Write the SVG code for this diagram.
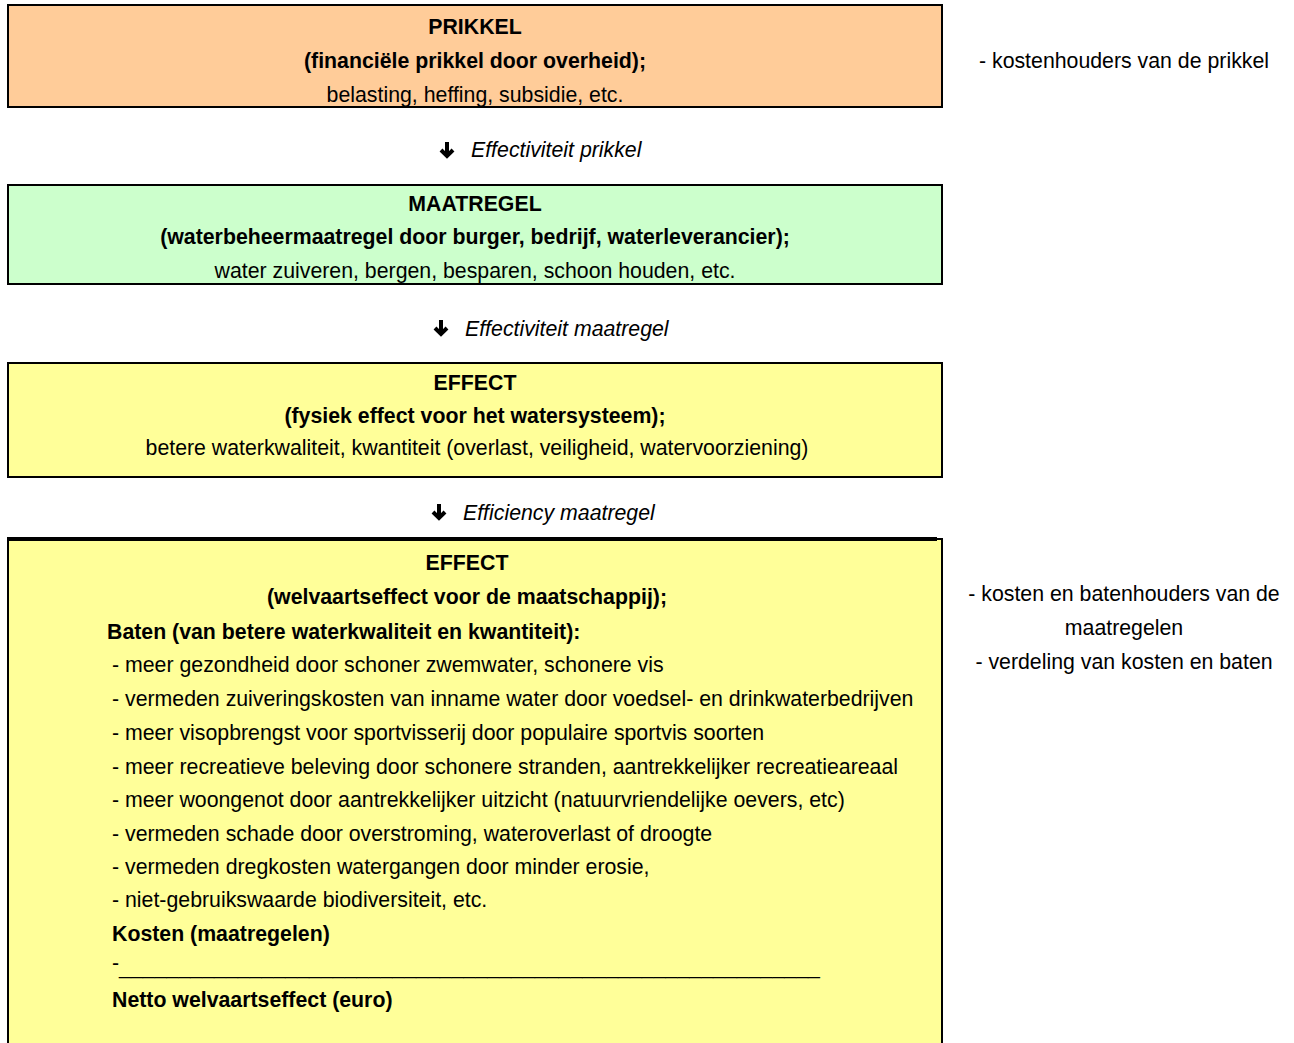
<svg xmlns="http://www.w3.org/2000/svg" width="1294" height="1043" viewBox="0 0 1294 1043">
<style>
text{font-family:"Liberation Sans",Arial,sans-serif;font-size:21.3px;fill:#000}
.c{text-anchor:middle}
.b{font-weight:bold}
.i{font-style:italic}
.box{stroke:#000;stroke-width:2}
.arr{stroke:#000;stroke-width:4;fill:none;stroke-linecap:butt;stroke-linejoin:miter}
</style>
<defs>
<g id="darrow"><line class="arr" x1="0" y1="-8" x2="0" y2="6"/><polyline class="arr" points="-6,0 0,6 6,0"/></g>
</defs>
<rect width="1294" height="1043" fill="#fff"/>
<g id="prikkel">
<rect class="box" x="8" y="5" width="934" height="102" fill="#FFCC99"/>
<text class="c b" x="475" y="34">PRIKKEL</text>
<text class="c b" x="475" y="68">(financiële prikkel door overheid);</text>
<text class="c" x="475" y="102">belasting, heffing, subsidie, etc.</text>
</g>
<g id="note-prikkel">
<text class="c" x="1124" y="68">- kostenhouders van de prikkel</text>
</g>
<g id="maatregel">
<rect class="box" x="8" y="185" width="934" height="99" fill="#CCFFCC"/>
<text class="c b" x="475" y="211">MAATREGEL</text>
<text class="c b" x="475" y="244">(waterbeheermaatregel door burger, bedrijf, waterleverancier);</text>
<text class="c" x="475" y="278">water zuiveren, bergen, besparen, schoon houden, etc.</text>
</g>
<g id="effect-fysiek">
<rect class="box" x="8" y="363" width="934" height="114" fill="#FFFF99"/>
<text class="c b" x="475" y="390">EFFECT</text>
<text class="c b" x="475" y="423">(fysiek effect voor het watersysteem);</text>
<text class="c" x="477" y="455">betere waterkwaliteit, kwantiteit (overlast, veiligheid, watervoorziening)</text>
</g>
<g id="effect-welvaart">
<rect class="box" x="8" y="539" width="934" height="510" fill="#FFFF99"/>
<line x1="7" y1="539" x2="937" y2="539" stroke="#000" stroke-width="4"/>
<text class="c b" x="467" y="570">EFFECT</text>
<text class="c b" x="467" y="604">(welvaartseffect voor de maatschappij);</text>
<text class="b" x="107" y="639">Baten (van betere waterkwaliteit en kwantiteit):</text>
<text x="112" y="672">- meer gezondheid door schoner zwemwater, schonere vis</text>
<text x="112" y="706">- vermeden zuiveringskosten van inname water door voedsel- en drinkwaterbedrijven</text>
<text x="112" y="740">- meer visopbrengst voor sportvisserij door populaire sportvis soorten</text>
<text x="112" y="774">- meer recreatieve beleving door schonere stranden, aantrekkelijker recreatieareaal</text>
<text x="112" y="807">- meer woongenot door aantrekkelijker uitzicht (natuurvriendelijke oevers, etc)</text>
<text x="112" y="841">- vermeden schade door overstroming, wateroverlast of droogte</text>
<text x="112" y="874">- vermeden dregkosten watergangen door minder erosie,</text>
<text x="112" y="907">- niet-gebruikswaarde biodiversiteit, etc.</text>
<text class="b" x="112" y="941">Kosten (maatregelen)</text>
<text x="112" y="970">-</text>
<text x="119" y="974" textLength="701" lengthAdjust="spacingAndGlyphs">___________________________________________________________</text>
<text class="b" x="112" y="1007">Netto welvaartseffect (euro)</text>
</g>
<g id="note-maatregelen">
<text class="c" x="1124" y="601">- kosten en batenhouders van de</text>
<text class="c" x="1124" y="635">maatregelen</text>
<text class="c" x="1124" y="669">- verdeling van kosten en baten</text>
</g>
<g id="connectors">
<use href="#darrow" x="447" y="150"/>
<use href="#darrow" x="441" y="328"/>
<use href="#darrow" x="439" y="512"/>
</g>
<g id="labels">
<text class="i" x="471" y="157">Effectiviteit prikkel</text>
<text class="i" x="465" y="336">Effectiviteit maatregel</text>
<text class="i" x="463" y="520">Efficiency maatregel</text>
</g>
</svg>
